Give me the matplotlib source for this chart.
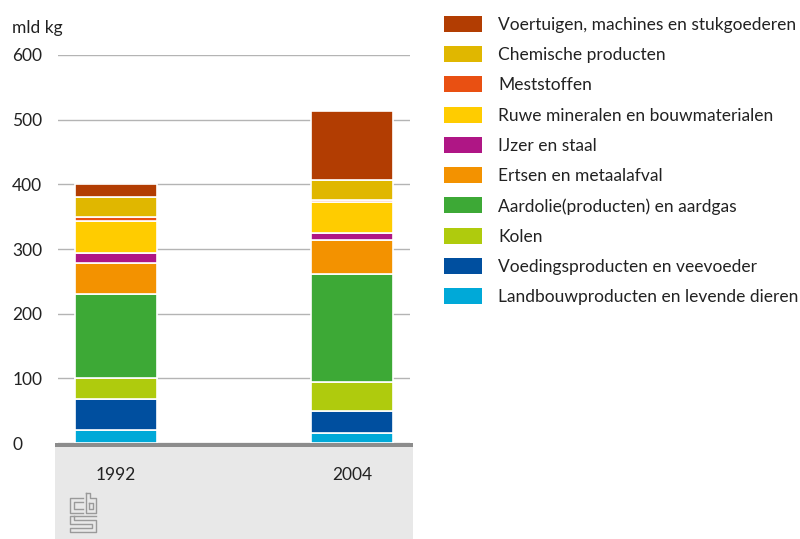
import matplotlib
matplotlib.use("Agg")
import matplotlib.pyplot as plt
from matplotlib.patches import Rectangle
from matplotlib.lines import Line2D
import numpy as np

plt.rcParams['font.family'] = ['Lato', 'DejaVu Sans']

years = ["1992", "2004"]

# stacked from bottom to top
categories = [
    "Landbouwproducten en levende dieren",
    "Voedingsproducten en veevoeder",
    "Kolen",
    "Aardolie(producten) en aardgas",
    "Ertsen en metaalafval",
    "IJzer en staal",
    "Ruwe mineralen en bouwmaterialen",
    "Meststoffen",
    "Chemische producten",
    "Voertuigen, machines en stukgoederen",
]
values_1992 = [20, 48, 32, 130, 49, 15, 49, 6, 31, 21]
values_2004 = [15, 34, 45, 167, 53, 10, 48, 4, 30, 107]

colors = ["#00A9D8", "#004F9F", "#AFCB0D", "#3DA936", "#F39200",
          "#AF1685", "#FFCC00", "#E95012", "#E0B700", "#B23D02"]

yticks = [0, 100, 200, 300, 400, 500, 600]

W, H = 800, 539
FS = 12.5
fig = plt.figure(figsize=(W / 100, H / 100), dpi=100)

def fx(px):
    return px / W

def fy(py):
    return 1 - py / H

ax = fig.add_axes([fx(58), fy(443), fx(410) - fx(58), fy(55) - fy(443)])
ax.set_facecolor("none")
ax.set_zorder(2)

data = np.array([values_1992, values_2004])
x = np.arange(len(years))
bottom = np.zeros(len(years))
for i, cat in enumerate(categories):
    ax.bar(x, data[:, i], bottom=bottom, width=0.35, color=colors[i],
           edgecolor="white", linewidth=1.2, zorder=3)
    bottom += data[:, i]

ax.set_xlim(-0.246, 1.246)
ax.set_ylim(0, 600)
ax.set_yticks(yticks)
ax.set_yticklabels([str(t) for t in yticks])
for lbl in ax.get_yticklabels():
    lbl.set_ha("left")
ax.tick_params(axis="y", length=0, pad=33, labelsize=FS, labelcolor="#222222")
ax.set_xticks(x)
ax.set_xticklabels(years)
ax.tick_params(axis="x", length=0, pad=17, labelsize=FS, labelcolor="#222222")
ax.yaxis.grid(True, color="#b4b4b4", linewidth=1)
ax.set_axisbelow(True)
for s in ax.spines.values():
    s.set_visible(False)

# grey footer area and baseline
fig.patches.append(Rectangle((fx(55), 0), fx(413) - fx(55), fy(443), transform=fig.transFigure,
                             facecolor="#e8e8e8", edgecolor="none", zorder=0))
fig.patches.append(Rectangle((fx(55), fy(447)), fx(413) - fx(55), fy(443) - fy(447),
                             transform=fig.transFigure, facecolor="#8c8c8c",
                             edgecolor="none", zorder=5))

# cbs logo (rough)
logo = [
    [(83, 498), (70, 498), (70, 513), (83, 513)],
    [(83, 502), (74, 502), (74, 509), (83, 509)],
    [(86, 493), (86, 513), (96, 513), (96, 498), (90, 498), (90, 493), (86, 493)],
    [(89, 503), (93, 503), (93, 509), (89, 509), (89, 503)],
    [(96, 516), (70, 516), (70, 524), (92, 524), (92, 528), (70, 528), (70, 532), (96, 532),
     (96, 520), (74, 520), (74, 516)],
]
for pts in logo:
    xs = [fx(p[0]) for p in pts]
    ys = [fy(p[1]) for p in pts]
    fig.lines.append(Line2D(xs, ys, transform=fig.transFigure, color="#9a9a9a", lw=1))

fig.text(fx(12), fy(28), "mld kg", fontsize=FS, color="#222222", va="center", ha="left")

# legend (top to bottom)
for k, i in enumerate(range(len(categories) - 1, -1, -1)):
    yc = 23.8 + 30.25 * k
    fig.patches.append(Rectangle((fx(444), fy(yc + 8)), fx(482) - fx(444), fy(yc - 8) - fy(yc + 8),
                                 transform=fig.transFigure, facecolor=colors[i], edgecolor="none"))
    fig.text(fx(498), fy(yc + 1), categories[i], fontsize=FS, color="#222222",
             va="center", ha="left")

fig.savefig("out.png", dpi=100)
